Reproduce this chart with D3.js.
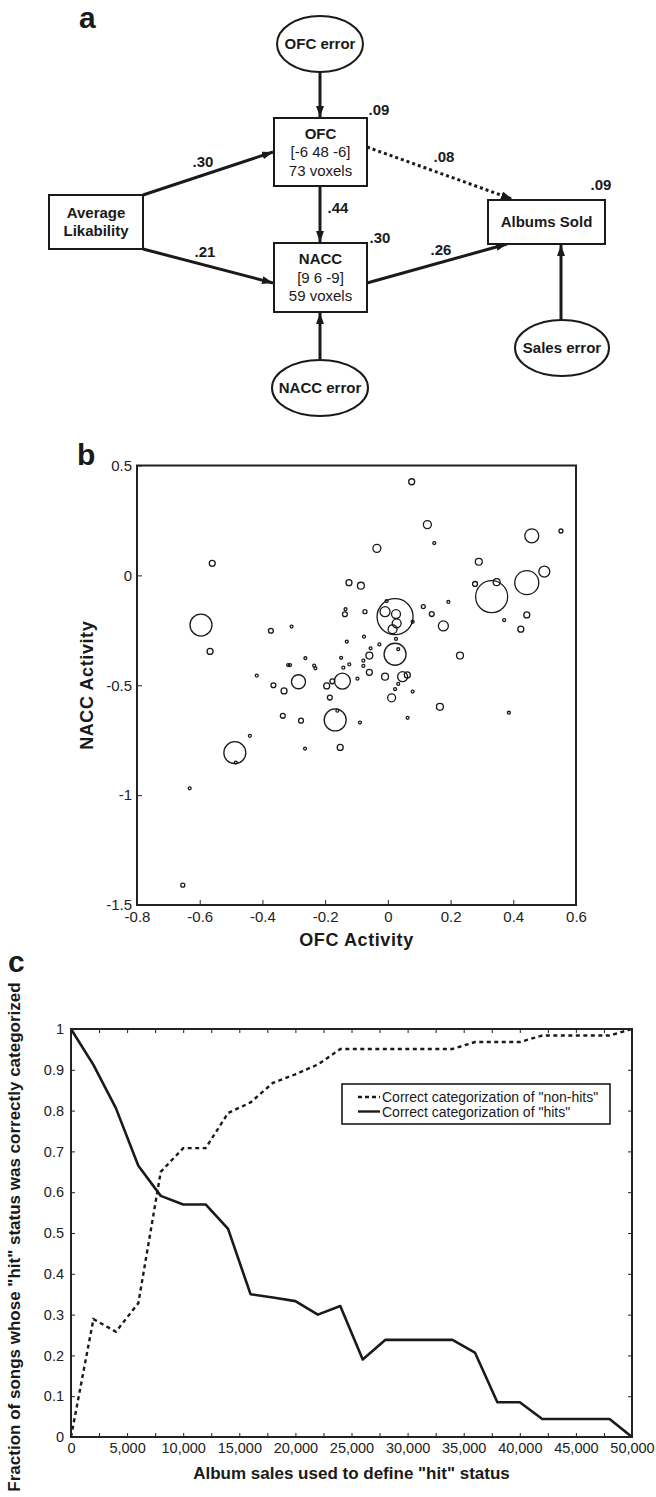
<!DOCTYPE html>
<html>
<head>
<meta charset="utf-8">
<script src="https://cdn.jsdelivr.net/npm/d3@7"></script>
<style>
  html, body { margin: 0; padding: 0; background: #fff; }
  svg { display: block; font-family: "Liberation Sans", Arial, Helvetica, sans-serif; }
  .frame { fill: none; stroke: #222; stroke-width: 2; }
  .axis text { fill: #222; }
  .axis line { stroke: #222; stroke-width: 1; }
</style>
</head>
<body>
<svg id="chart" width="656" height="1497"></svg>
<script>
// ---------- panel a: path model ----------
const nodeIds = ['avg', 'ofc', 'nacc', 'albums'];
const nodeText = [['Average', 'Likability'], ['OFC', '[-6 48 -6]', '73 voxels'], ['NACC', '[9 6 -9]', '59 voxels'], ['Albums Sold']];
const errorIds = ['ofcErr', 'naccErr', 'salesErr'];
const errorText = ['OFC error', 'NACC error', 'Sales error'];
const pathFrom = ['avg', 'avg', 'ofc', 'ofc', 'nacc', 'ofcErr', 'naccErr', 'salesErr'];
const pathTo = ['ofc', 'nacc', 'nacc', 'albums', 'albums', 'ofc', 'nacc', 'albums'];
const pathCoef = ['.30', '.21', '.44', '.08', '.26', '', '', ''];
const r2Nodes = ['ofc', 'nacc', 'albums'];
const r2Values = ['.09', '.30', '.09'];

// ---------- panel b: scatter ----------
const ofcActivity = [0.076, 0.126, 0.148, -0.035, 0.459, 0.552, -0.56, 0.29, 0.499, 0.443,
  0.331, 0.347, 0.278, -0.124, -0.086, 0.193, 0.113, 0.14, 0.443, 0.023,
  -0.009, 0.026, 0.028, 0.015, -0.137, -0.135, -0.073, -0.004, 0.079, -0.596,
  -0.567, -0.373, -0.307, 0.177, 0.371, 0.424, 0.23, 0.166, 0.386, 0.026,
  0.033, 0.023, -0.076, -0.131, -0.027, -0.055, -0.059, -0.078, -0.078, -0.059,
  -0.149, -0.142, -0.123, -0.263, -0.318, -0.312, -0.235, -0.231, -0.418, -0.365,
  -0.331, -0.285, -0.195, -0.177, -0.145, -0.097, -0.009, 0.047, 0.062, 0.033,
  0.023, 0.079, 0.012, -0.185, -0.335, -0.277, -0.168, -0.161, -0.089, 0.063,
  -0.44, -0.488, -0.485, -0.264, -0.152, -0.632, -0.654];
const naccActivity = [0.426, 0.231, 0.147, 0.123, 0.18, 0.202, 0.055, 0.062, 0.017, -0.033,
  -0.097, -0.031, -0.039, -0.033, -0.047, -0.121, -0.142, -0.176, -0.18, -0.188,
  -0.165, -0.176, -0.218, -0.245, -0.177, -0.154, -0.165, -0.117, -0.211, -0.226,
  -0.346, -0.252, -0.233, -0.23, -0.204, -0.245, -0.365, -0.598, -0.625, -0.289,
  -0.336, -0.359, -0.279, -0.302, -0.314, -0.332, -0.365, -0.388, -0.412, -0.441,
  -0.375, -0.42, -0.405, -0.377, -0.408, -0.408, -0.411, -0.423, -0.456, -0.5,
  -0.526, -0.484, -0.503, -0.482, -0.481, -0.47, -0.461, -0.461, -0.453, -0.494,
  -0.518, -0.529, -0.557, -0.556, -0.639, -0.661, -0.658, -0.616, -0.67, -0.648,
  -0.73, -0.807, -0.852, -0.788, -0.783, -0.969, -1.41];
// album sales (thousands) -> circle area
const albumSales = [90, 160, 22, 160, 490, 40, 90, 120, 300, 1440,
  2560, 120, 60, 90, 120, 22, 40, 60, 90, 3240,
  250, 200, 200, 200, 60, 22, 40, 22, 22, 1210,
  90, 60, 22, 250, 22, 90, 120, 120, 22, 22,
  22, 1210, 22, 22, 22, 22, 120, 22, 22, 90,
  22, 22, 22, 22, 22, 22, 22, 22, 22, 60,
  90, 490, 90, 60, 640, 22, 120, 250, 90, 22,
  22, 22, 160, 60, 60, 60, 1210, 22, 22, 22,
  22, 1210, 22, 22, 90, 22, 40];
const ofcTicks = [-0.8, -0.6, -0.4, -0.2, 0, 0.2, 0.4, 0.6];
const naccTicks = [-1.5, -1, -0.5, 0, 0.5];

// ---------- panel c: hit categorization ----------
const salesThreshold = [0, 2000, 4000, 6000, 8000, 10000, 12000, 14000, 16000, 18000,
  20000, 22000, 24000, 26000, 28000, 30000, 32000, 34000, 36000, 38000,
  40000, 42000, 44000, 46000, 48000, 50000];
const hitsCorrect = [1.0, 0.912, 0.806, 0.665, 0.591, 0.570, 0.570, 0.510, 0.350, 0.342,
  0.333, 0.300, 0.321, 0.190, 0.238, 0.238, 0.238, 0.238, 0.207, 0.085,
  0.085, 0.044, 0.044, 0.044, 0.044, 0.0];
const nonHitsCorrect = [0.0, 0.289, 0.258, 0.328, 0.650, 0.708, 0.708, 0.794, 0.820, 0.868,
  0.889, 0.913, 0.951, 0.951, 0.951, 0.951, 0.951, 0.951, 0.968, 0.968,
  0.968, 0.984, 0.984, 0.984, 0.984, 1.0];
const salesTicks = [0, 5000, 10000, 15000, 20000, 25000, 30000, 35000, 40000, 45000, 50000];
const fractionTicks = [0, 0.1, 0.2, 0.3, 0.4, 0.5, 0.6, 0.7, 0.8, 0.9, 1];
const legendLabels = ['Correct categorization of "non-hits"', 'Correct categorization of "hits"'];

const INK = '#1a1a1a';
const svg = d3.select('#chart');
svg.append('rect').attr('width', 656).attr('height', 1497).attr('fill', '#fff');

// panel letters
const letters = [['a', 79, 28], ['b', 77, 465], ['c', 8, 972]];
svg.selectAll('text.letter').data(letters).join('text')
    .attr('class', 'letter')
    .attr('x', d => d[0 + 1]).attr('y', d => d[2])
    .attr('font-size', 30).attr('font-weight', 'bold').attr('fill', INK)
    .text(d => d[0]);

/* ================= panel a ================= */
// diagram layout (pixels) kept apart from the model content above
const layout = {
    avg:      { x: 49,  y: 195, w: 94,  h: 54 },
    ofc:      { x: 274, y: 118, w: 93,  h: 68 },
    nacc:     { x: 274, y: 243, w: 93,  h: 69 },
    albums:   { x: 488, y: 200, w: 117, h: 44 },
    ofcErr:   { cx: 320, cy: 44,  rx: 43, ry: 28 },
    naccErr:  { cx: 320, cy: 388, rx: 48, ry: 28 },
    salesErr: { cx: 562, cy: 348, rx: 47, ry: 28 }
};
const edgeLayout = {
    'avg>ofc':       { p: [143, 195, 273, 152], l: [203, 167] },
    'avg>nacc':      { p: [143, 249, 273, 283], l: [205, 257] },
    'ofc>nacc':      { p: [320, 186, 320, 242], l: [338, 213] },
    'ofc>albums':    { p: [367, 147, 512, 199], l: [444, 162] },
    'nacc>albums':   { p: [367, 283, 507, 244], l: [441, 255] },
    'ofcErr>ofc':    { p: [320, 72, 320, 117] },
    'naccErr>nacc':  { p: [320, 360, 320, 313] },
    'salesErr>albums': { p: [561, 320, 561, 245] }
};
const r2Layout = { ofc: [379, 115], nacc: [380, 243], albums: [601, 190] };

const pa = svg.append('g').attr('class', 'panel-a');
pa.append('defs').append('marker')
    .attr('id', 'arrow')
    .attr('viewBox', '0 0 11 8')
    .attr('refX', 11).attr('refY', 4)
    .attr('markerWidth', 11).attr('markerHeight', 8)
    .attr('markerUnits', 'userSpaceOnUse')
    .attr('orient', 'auto')
  .append('path')
    .attr('d', 'M0,0 L11,4 L0,8 Z')
    .attr('fill', INK);

const edges = pathFrom.map((f, i) => ({ key: f + '>' + pathTo[i], coef: pathCoef[i] }));
pa.selectAll('line.edge').data(edges).join('line')
    .attr('class', 'edge')
    .attr('x1', d => edgeLayout[d.key].p[0]).attr('y1', d => edgeLayout[d.key].p[1])
    .attr('x2', d => edgeLayout[d.key].p[2]).attr('y2', d => edgeLayout[d.key].p[3])
    .attr('stroke', INK).attr('stroke-width', 3)
    .attr('stroke-dasharray', d => d.key === 'ofc>albums' ? '3,3' : null)
    .attr('marker-end', 'url(#arrow)');

pa.selectAll('text.coef').data(edges.filter(d => d.coef)).join('text')
    .attr('class', 'coef')
    .attr('x', d => edgeLayout[d.key].l[0]).attr('y', d => edgeLayout[d.key].l[1])
    .attr('text-anchor', 'middle').attr('font-size', 15).attr('font-weight', 'bold').attr('fill', INK)
    .text(d => d.coef);

const boxes = nodeIds.map((id, i) => ({ id, lines: nodeText[i] }));
const boxG = pa.selectAll('g.box').data(boxes).join('g').attr('class', 'box');
boxG.append('rect')
    .attr('x', d => layout[d.id].x).attr('y', d => layout[d.id].y)
    .attr('width', d => layout[d.id].w).attr('height', d => layout[d.id].h)
    .attr('fill', '#fff').attr('stroke', INK).attr('stroke-width', 2);
boxG.each(function (d) {
    const b = layout[d.id];
    const n = d.lines.length;
    const step = 18.5;
    const top = b.y + b.h / 2 - (n - 1) * step / 2 + 5;
    d3.select(this).selectAll('text').data(d.lines).join('text')
        .attr('x', b.x + b.w / 2)
        .attr('y', (t, j) => top + j * step)
        .attr('text-anchor', 'middle')
        .attr('font-size', 15)
        .attr('font-weight', (t, j) => (j === 0 || d.id === 'avg') ? 'bold' : 'normal')
        .attr('fill', INK)
        .text(t => t);
});

const errs = errorIds.map((id, i) => ({ id, label: errorText[i] }));
const errG = pa.selectAll('g.err').data(errs).join('g').attr('class', 'err');
errG.append('ellipse')
    .attr('cx', d => layout[d.id].cx).attr('cy', d => layout[d.id].cy)
    .attr('rx', d => layout[d.id].rx).attr('ry', d => layout[d.id].ry)
    .attr('fill', '#fff').attr('stroke', INK).attr('stroke-width', 2);
errG.append('text')
    .attr('x', d => layout[d.id].cx).attr('y', d => layout[d.id].cy + 5)
    .attr('text-anchor', 'middle').attr('font-size', 15).attr('font-weight', 'bold').attr('fill', INK)
    .text(d => d.label);

pa.selectAll('text.r2').data(r2Nodes).join('text')
    .attr('class', 'r2')
    .attr('x', d => r2Layout[d][0]).attr('y', d => r2Layout[d][1])
    .attr('text-anchor', 'middle').attr('font-size', 15).attr('font-weight', 'bold').attr('fill', INK)
    .text((d, i) => r2Values[i]);

/* ================= panel b ================= */
const bx = d3.scaleLinear().domain([-0.8, 0.6]).range([137, 576]);
const by = d3.scaleLinear().domain([-1.5, 0.5]).range([905, 465.5]);
const rScale = d3.scaleSqrt().domain([0, 3240]).range([0, 18]);
const numFmt = d => String(+d.toFixed(2));

const pb = svg.append('g').attr('class', 'panel-b');
pb.append('g').attr('class', 'axis')
    .attr('transform', `translate(0,${by.range()[0]})`)
    .call(d3.axisBottom(bx).tickValues(ofcTicks).tickSize(-5).tickPadding(6).tickFormat(numFmt))
    .call(a => a.select('.domain').remove())
    .call(a => a.selectAll('text').attr('font-size', 15).attr('font-family', null));
pb.append('g').attr('class', 'axis')
    .attr('transform', `translate(${bx.range()[0]},0)`)
    .call(d3.axisLeft(by).tickValues(naccTicks).tickSize(-5).tickPadding(5).tickFormat(numFmt))
    .call(a => a.select('.domain').remove())
    .call(a => a.selectAll('text').attr('font-size', 15).attr('font-family', null));
pb.append('rect').attr('class', 'frame')
    .attr('x', bx.range()[0]).attr('y', by.range()[1])
    .attr('width', bx.range()[1] - bx.range()[0]).attr('height', by.range()[0] - by.range()[1]);

const pts = ofcActivity.map((x, i) => ({ x, y: naccActivity[i], s: albumSales[i] }));
pb.selectAll('circle.song').data(pts).join('circle')
    .attr('class', 'song')
    .attr('cx', d => bx(d.x)).attr('cy', d => by(d.y)).attr('r', d => rScale(d.s))
    .attr('fill', 'none').attr('stroke', INK).attr('stroke-width', 1.3);

pb.append('text')
    .attr('x', (bx.range()[0] + bx.range()[1]) / 2).attr('y', 946)
    .attr('text-anchor', 'middle').attr('font-size', 18).attr('font-weight', 'bold')
    .attr('letter-spacing', 0.6).attr('fill', INK)
    .text('OFC Activity');
pb.append('text')
    .attr('transform', `translate(87,${(by.range()[0] + by.range()[1]) / 2}) rotate(-90)`)
    .attr('text-anchor', 'middle').attr('dominant-baseline', 'central')
    .attr('font-size', 18).attr('font-weight', 'bold').attr('letter-spacing', 0.6).attr('fill', INK)
    .text('NACC Activity');

/* ================= panel c ================= */
const cx = d3.scaleLinear().domain([0, 50000]).range([71, 632]);
const cy = d3.scaleLinear().domain([0, 1]).range([1437, 1029]);
const minorSales = salesTicks.flatMap((t, i) => i < salesTicks.length - 1 ? [t, (t + salesTicks[i + 1]) / 2] : [t]);
const commaFmt = d3.format(',');

const pc = svg.append('g').attr('class', 'panel-c');
pc.append('g').attr('class', 'axis')
    .attr('transform', `translate(0,${cy.range()[0]})`)
    .call(d3.axisBottom(cx).tickValues(minorSales).tickSize(-4).tickPadding(6)
        .tickFormat(d => salesTicks.includes(d) ? commaFmt(d) : ''))
    .call(a => a.select('.domain').remove())
    .call(a => a.selectAll('text').attr('font-size', 14.5).attr('font-family', null));
pc.append('g').attr('class', 'axis')
    .attr('transform', `translate(0,${cy.range()[1]})`)
    .call(d3.axisTop(cx).tickValues(minorSales).tickSize(-4).tickFormat(''))
    .call(a => a.select('.domain').remove());
pc.append('g').attr('class', 'axis')
    .attr('transform', `translate(${cx.range()[0]},0)`)
    .call(d3.axisLeft(cy).tickValues(fractionTicks).tickSize(-4).tickPadding(7).tickFormat(numFmt))
    .call(a => a.select('.domain').remove())
    .call(a => a.selectAll('text').attr('font-size', 14.5).attr('font-family', null));
pc.append('g').attr('class', 'axis')
    .attr('transform', `translate(${cx.range()[1]},0)`)
    .call(d3.axisRight(cy).tickValues(fractionTicks).tickSize(-4).tickFormat(''))
    .call(a => a.select('.domain').remove());

const line = d3.line().x(d => cx(d[0])).y(d => cy(d[1]));
const nonHitsLine = salesThreshold.map((t, i) => [t, nonHitsCorrect[i]]);
const hitsLine = salesThreshold.map((t, i) => [t, hitsCorrect[i]]);
pc.append('path').datum(nonHitsLine)
    .attr('d', line).attr('fill', 'none').attr('stroke', INK)
    .attr('stroke-width', 2.4).attr('stroke-dasharray', '4,3.5');
pc.append('path').datum(hitsLine)
    .attr('d', line).attr('fill', 'none').attr('stroke', INK)
    .attr('stroke-width', 2.6).attr('stroke-linejoin', 'round');

pc.append('rect').attr('class', 'frame')
    .attr('x', cx.range()[0]).attr('y', cy.range()[1])
    .attr('width', cx.range()[1] - cx.range()[0]).attr('height', cy.range()[0] - cy.range()[1]);

// legend
const lg = pc.append('g').attr('transform', 'translate(342,1084)');
lg.append('rect').attr('width', 268).attr('height', 40)
    .attr('fill', '#fff').attr('stroke', INK).attr('stroke-width', 1.6);
const lgItems = lg.selectAll('g.item').data(legendLabels).join('g')
    .attr('class', 'item')
    .attr('transform', (d, i) => `translate(0,${13 + i * 14.5})`);
lgItems.append('line')
    .attr('x1', 16).attr('x2', 38).attr('y1', 0).attr('y2', 0)
    .attr('stroke', INK).attr('stroke-width', 2.4)
    .attr('stroke-dasharray', (d, i) => i === 0 ? '4,3' : null);
lgItems.append('text')
    .attr('x', 40).attr('y', 0).attr('dominant-baseline', 'central')
    .attr('font-size', 14).attr('fill', INK)
    .text(d => d);

pc.append('text')
    .attr('x', (cx.range()[0] + cx.range()[1]) / 2).attr('y', 1479)
    .attr('text-anchor', 'middle').attr('font-size', 17).attr('font-weight', 'bold').attr('fill', INK)
    .text('Album sales used to define "hit" status');
pc.append('text')
    .attr('transform', `translate(14,${(cy.range()[0] + cy.range()[1]) / 2 + 4}) rotate(-90)`)
    .attr('text-anchor', 'middle').attr('dominant-baseline', 'central')
    .attr('font-size', 17).attr('font-weight', 'bold').attr('fill', INK)
    .text('Fraction of songs whose "hit" status was correctly categorized');
</script>
</body>
</html>
